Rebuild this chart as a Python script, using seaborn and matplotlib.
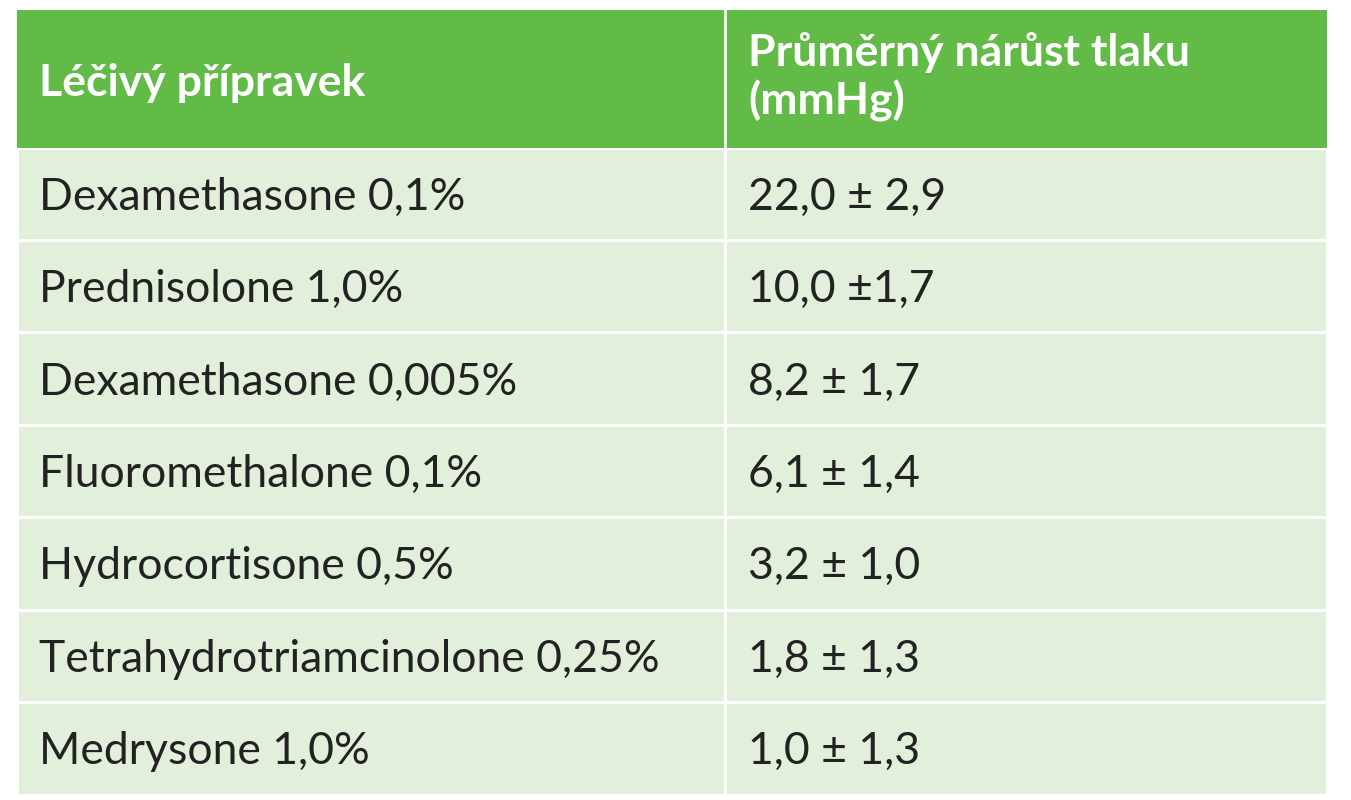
import matplotlib
matplotlib.use("Agg")
import matplotlib.pyplot as plt
import seaborn as sns
from matplotlib.patches import Rectangle

sns.set_theme(style="white")
plt.rcParams['font.family'] = ['Lato', 'DejaVu Sans']

header = ["Léčivý přípravek", "Průměrný nárůst tlaku\n(mmHg)"]
drugs = ["Dexamethasone 0,1%", "Prednisolone 1,0%", "Dexamethasone 0,005%",
         "Fluoromethalone 0,1%", "Hydrocortisone 0,5%",
         "Tetrahydrotriamcinolone 0,25%", "Medrysone 1,0%"]
values = ["22,0 ± 2,9", "10,0 ±1,7", "8,2 ± 1,7", "6,1 ± 1,4",
          "3,2 ± 1,0", "1,8 ± 1,3", "1,0 ± 1,3"]

W, H = 1351, 800
fig = plt.figure(figsize=(W/100, H/100), dpi=100)
ax = fig.add_axes([0, 0, 1, 1])
ax.set_xlim(0, W); ax.set_ylim(H, 0); ax.axis("off")

x0, xm, x1 = 17, 725, 1327
y0, yh, y1 = 10, 148, 795
rh = (y1 - yh) / len(drugs)
green = "#62BB46"; light = "#E2EFDA"
gap = 1.5

ax.add_patch(Rectangle((x0, y0), x1-x0, yh-y0, color=green, lw=0))
ax.text(x0+22, (y0+yh)/2+4, header[0], color="white", fontsize=32, fontweight="bold", va="center")
ax.text(xm+23, (y0+yh)/2-2, header[1], color="white", fontsize=32, fontweight="bold", va="center", linespacing=1.2)
for i, (d, v) in enumerate(zip(drugs, values)):
    top = yh + i*rh
    for a, b in [(x0, xm), (xm, x1)]:
        ax.add_patch(Rectangle((a+gap, top+gap), b-a-2*gap, rh-2*gap, color=light, lw=0))
    ax.text(x0+22, top+rh/2+3, d, color="#222222", fontsize=32, va="center")
    ax.text(xm+23, top+rh/2+3, v, color="#222222", fontsize=32, va="center")
ax.plot([xm, xm], [y0, yh], color="white", lw=2)

fig.savefig("out.png", dpi=100, facecolor="white")
